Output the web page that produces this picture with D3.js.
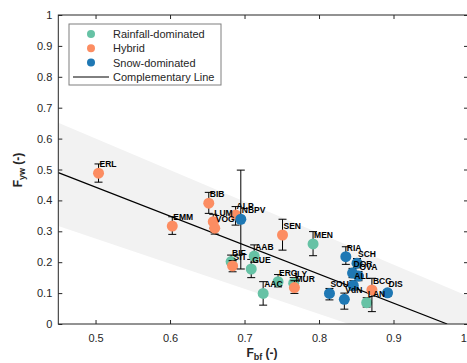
<!DOCTYPE html>
<html>
<head>
<meta charset="utf-8">
<script src="https://cdn.jsdelivr.net/npm/d3@7"></script>
<style>
  body { margin: 0; background: #fff; }
  text { font-family: "Liberation Sans", Arial, sans-serif; }
</style>
</head>
<body>
<script>
"use strict";
// catchment codes, group, F_bf, F_yw, lower and upper error
const names  = ["ERL","EMM","BIB","LUM","VOG","ALP","SEN","SIT","MUR","BCC",
                "BIF","AAB","GUE","ERG","ILY","AAC","MEN","LAN",
                "NBPV","RIA","SCH","DOR","OVA","ALL","VdN","SOU","DIS"];
const groups = ["H","H","H","H","H","H","H","H","H","H",
                "R","R","R","R","R","R","R","R",
                "S","S","S","S","S","S","S","S","S"];
const fbf    = [0.504,0.603,0.652,0.658,0.660,0.688,0.751,0.684,0.767,0.871,
                0.682,0.713,0.709,0.745,0.766,0.725,0.792,0.864,
                0.695,0.836,0.851,0.845,0.853,0.846,0.834,0.814,0.892];
const fyw    = [0.488,0.317,0.391,0.331,0.310,0.353,0.288,0.188,0.118,0.110,
                0.202,0.220,0.178,0.137,0.132,0.099,0.259,0.069,
                0.339,0.218,0.197,0.165,0.155,0.125,0.080,0.099,0.101];
const errLo  = [0.459,0.290,0.358,0.310,0.291,0.320,0.239,0.169,0.099,0.040,
                0.190,0.200,0.150,0.120,0.115,0.061,0.221,0.055,
                0.178,0.193,0.182,0.150,0.140,0.110,0.048,0.078,0.090];
const errHi  = [0.518,0.347,0.426,0.355,0.330,0.380,0.339,0.205,0.140,0.148,
                0.223,0.256,0.209,0.160,0.150,0.137,0.299,0.085,
                0.498,0.250,0.212,0.180,0.170,0.140,0.100,0.115,0.110];

const groupKeys   = ["R","H","S"];
const groupNames  = ["Rainfall-dominated","Hybrid","Snow-dominated"];
const groupColors = ["#66c2a5","#fc8d62","#1f78b4"];

const lineX = [0.45, 0.972];
const lineY = [0.49, 0.0];
const bandUpperX = [0.45, 1.0], bandUpperY = [0.651, 0.09];
const bandLowerX = [0.45, 0.84], bandLowerY = [0.317, 0.0];

const xTicks = [0.5, 0.6, 0.7, 0.8, 0.9, 1.0];
const yTicks = [0, 0.1, 0.2, 0.3, 0.4, 0.5, 0.6, 0.7, 0.8, 0.9, 1];

const W = 467, H = 363;
const box = { left: 58.3, right: 468, top: 15, bottom: 324 };

const svg = d3.select("body").append("svg").attr("width", W).attr("height", H);

const x = d3.scaleLinear().domain([0.45, 1.0]).range([box.left, box.right]);
const y = d3.scaleLinear().domain([0, 1]).range([box.bottom, box.top]);

svg.append("clipPath").attr("id", "clip")
  .append("rect").attr("x", box.left).attr("y", box.top)
  .attr("width", box.right - box.left).attr("height", box.bottom - box.top);

const plot = svg.append("g").attr("clip-path", "url(#clip)");

// shaded band
const bandPts = [
  [bandUpperX[0], bandUpperY[0]], [bandUpperX[1], bandUpperY[1]],
  [bandUpperX[1], -0.5], [bandLowerX[1], bandLowerY[1]], [bandLowerX[0], bandLowerY[0]]
];
plot.append("path")
  .attr("d", d3.line().x(d => x(d[0])).y(d => y(d[1]))(bandPts) + "Z")
  .attr("fill", "#f2f2f2");

// complementary line
plot.append("line")
  .attr("x1", x(lineX[0])).attr("y1", y(lineY[0]))
  .attr("x2", x(lineX[1])).attr("y2", y(lineY[1]))
  .attr("stroke", "#000").attr("stroke-width", 1.2);

const pts = names.map((n, i) => ({ name: n, g: groups[i], x: fbf[i], y: fyw[i], lo: errLo[i], hi: errHi[i] }));

groupKeys.forEach((k, gi) => {
  const sub = pts.filter(d => d.g === k);
  const eb = plot.append("g").attr("stroke", "#000").attr("stroke-width", 1);
  sub.forEach(d => {
    eb.append("line").attr("x1", x(d.x)).attr("x2", x(d.x)).attr("y1", y(d.lo)).attr("y2", y(d.hi));
    eb.append("line").attr("x1", x(d.x) - 4).attr("x2", x(d.x) + 4).attr("y1", y(d.lo)).attr("y2", y(d.lo));
    eb.append("line").attr("x1", x(d.x) - 4).attr("x2", x(d.x) + 4).attr("y1", y(d.hi)).attr("y2", y(d.hi));
  });
  plot.append("g").selectAll("circle").data(sub).enter().append("circle")
    .attr("cx", d => x(d.x)).attr("cy", d => y(d.y)).attr("r", 5.5)
    .attr("fill", groupColors[gi]);
});

// labels
svg.append("g").selectAll("text").data(pts).enter().append("text")
  .attr("x", d => x(d.x) + 1).attr("y", d => y(d.y) - 6)
  .attr("font-size", 8.5).attr("font-weight", "bold").attr("fill", "#000")
  .text(d => d.name);

// axes box with inward ticks
const axColor = "#262626";
function styleAxis(g) {
  g.select(".domain").remove();
  g.selectAll("line").attr("stroke", axColor);
  g.selectAll("text").attr("fill", axColor).attr("font-size", 11);
}
svg.append("g").attr("transform", `translate(0,${box.bottom})`)
  .call(d3.axisBottom(x).tickValues(xTicks).tickSize(-4).tickPadding(10).tickFormat(d3.format(".1f")))
  .call(styleAxis);
svg.append("g").attr("transform", `translate(0,${box.top})`)
  .call(d3.axisTop(x).tickValues(xTicks).tickSize(-4).tickFormat(""))
  .call(styleAxis);
svg.append("g").attr("transform", `translate(${box.left},0)`)
  .call(d3.axisLeft(y).tickValues(yTicks).tickSize(-4).tickPadding(6).tickFormat(d => d === 0 || d === 1 ? d : d3.format(".1f")(d)))
  .call(styleAxis);
svg.append("g").attr("transform", `translate(${box.right},0)`)
  .call(d3.axisRight(y).tickValues(yTicks).tickSize(-4).tickFormat(""))
  .call(styleAxis);
svg.append("rect").attr("x", box.left).attr("y", box.top)
  .attr("width", box.right - box.left).attr("height", box.bottom - box.top)
  .attr("fill", "none").attr("stroke", axColor).attr("stroke-width", 1);

// axis titles
const xl = svg.append("text").attr("x", 262).attr("y", 357).attr("text-anchor", "middle")
  .attr("font-size", 12).attr("font-weight", "bold").attr("fill", axColor);
xl.append("tspan").text("F");
xl.append("tspan").attr("font-size", 9).attr("dy", 3).text("bf");
xl.append("tspan").attr("dy", -3).text(" (-)");

const yl = svg.append("text").attr("transform", "translate(22,170) rotate(-90)").attr("text-anchor", "middle")
  .attr("font-size", 12).attr("font-weight", "bold").attr("fill", axColor);
yl.append("tspan").text("F");
yl.append("tspan").attr("font-size", 9).attr("dy", 3).text("yw");
yl.append("tspan").attr("dy", -3).text(" (-)");

// legend
const lg = svg.append("g");
lg.append("rect").attr("x", 69).attr("y", 24).attr("width", 152).attr("height", 61)
  .attr("fill", "#fff").attr("stroke", "#7f7f7f").attr("stroke-width", 1);
const rowY = [34, 48.3, 62.5, 77];
groupNames.forEach((n, i) => {
  lg.append("circle").attr("cx", 91).attr("cy", rowY[i]).attr("r", 4).attr("fill", groupColors[i]);
  lg.append("text").attr("x", 113).attr("y", rowY[i] + 4).attr("font-size", 11).attr("fill", axColor).text(n);
});
lg.append("line").attr("x1", 73).attr("x2", 109).attr("y1", rowY[3]).attr("y2", rowY[3])
  .attr("stroke", "#000").attr("stroke-width", 1);
lg.append("text").attr("x", 113).attr("y", rowY[3] + 4).attr("font-size", 11).attr("fill", axColor).text("Complementary Line");
</script>
</body>
</html>
